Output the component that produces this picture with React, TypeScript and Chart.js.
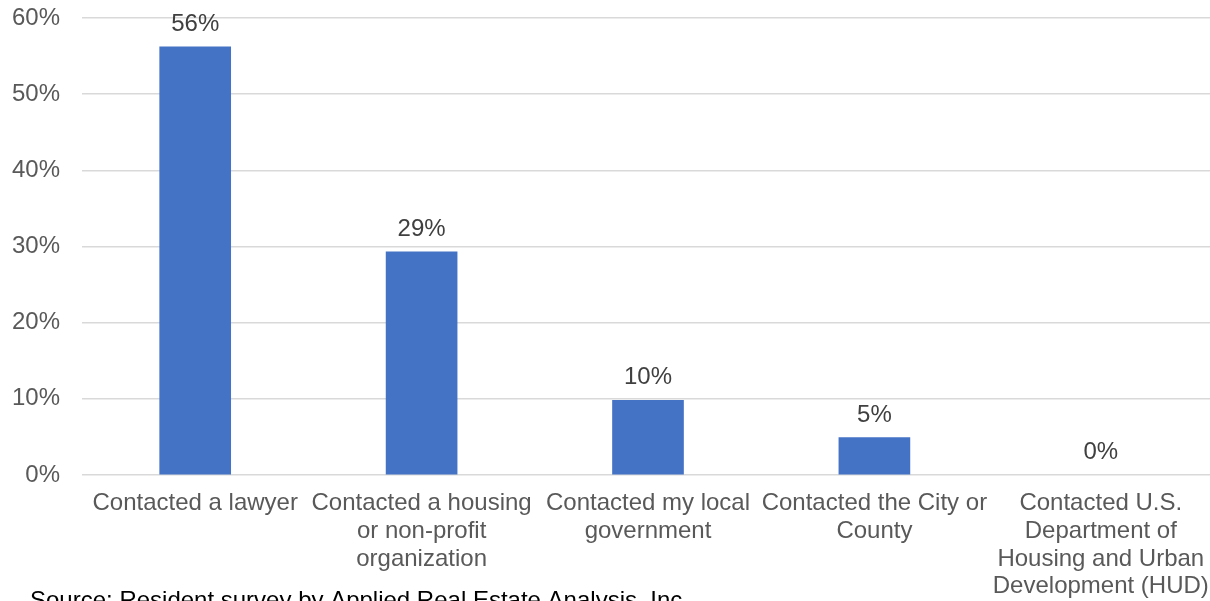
import React, { useEffect, useRef } from "react";
import { Chart, registerables } from "chart.js";

Chart.register(...registerables);

// Survey responses: share of residents who took each action
const categories: string[][] = [
  ["Contacted a lawyer"],
  ["Contacted a housing", "or non-profit", "organization"],
  ["Contacted my local", "government"],
  ["Contacted the City or", "County"],
  ["Contacted U.S.", "Department of", "Housing and Urban", "Development (HUD)"],
];
const shares: number[] = [56.2, 29.3, 9.8, 4.9, 0];
const yTicks: number[] = [0, 10, 20, 30, 40, 50, 60];
const sourceNote = "Source: Resident survey by Applied Real Estate Analysis, Inc.";

const FONT = "'Liberation Sans', Arial, sans-serif";

// Percent labels above each bar
const barValueLabels = {
  id: "barValueLabels",
  afterDatasetsDraw(chart: any) {
    const { ctx } = chart;
    const meta = chart.getDatasetMeta(0);
    ctx.save();
    ctx.font = `24px ${FONT}`;
    ctx.fillStyle = "#404040";
    ctx.textAlign = "center";
    ctx.textBaseline = "alphabetic";
    meta.data.forEach((bar: any, i: number) => {
      ctx.fillText(`${Math.round(shares[i])}%`, bar.x, bar.y - 16);
    });
    ctx.restore();
  },
};

// Source line under the chart
const sourceFooter = {
  id: "sourceFooter",
  afterDraw(chart: any) {
    const { ctx } = chart;
    ctx.save();
    ctx.font = `24px ${FONT}`;
    ctx.fillStyle = "#000000";
    ctx.textAlign = "left";
    ctx.textBaseline = "alphabetic";
    ctx.fillText(sourceNote, 30, 608);
    ctx.restore();
  },
};

export default function App() {
  const canvasRef = useRef<HTMLCanvasElement | null>(null);

  useEffect(() => {
    if (!canvasRef.current) return;
    const chart = new Chart(canvasRef.current, {
      type: "bar",
      data: {
        labels: categories,
        datasets: [
          {
            data: shares,
            backgroundColor: (c: any) =>
              c.raw === 0 ? "rgba(0,0,0,0)" : "#4472C4",
            borderWidth: 0,
            barThickness: 71,
          },
        ],
      },
      options: {
        responsive: false,
        animation: false,
        devicePixelRatio: 1,
        layout: { padding: { top: 18, left: 0, right: 0, bottom: 0 } },
        plugins: {
          legend: { display: false },
          tooltip: { enabled: false },
          title: { display: false },
        },
        scales: {
          x: {
            grid: { display: false, drawTicks: false },
            border: { display: false },
            ticks: {
              color: "#595959",
              font: { family: FONT, size: 24, lineHeight: 1.15 },
              padding: 15,
              maxRotation: 0,
              minRotation: 0,
              autoSkip: false,
            },
            afterFit(scale: any) {
              scale.height = 126;
              scale.paddingLeft = 0;
              scale.paddingRight = 0;
            },
          },
          y: {
            min: 0,
            max: 60,
            afterBuildTicks(scale: any) {
              scale.ticks = yTicks.map((v) => ({ value: v }));
            },
            grid: { color: "#d9d9d9", lineWidth: 1.5, drawTicks: false },
            border: { display: false },
            ticks: {
              color: "#595959",
              font: { family: FONT, size: 24 },
              padding: 22,
              callback: (v: any) => `${v}%`,
            },
            afterFit(scale: any) {
              scale.width = 82;
              scale.paddingTop = 0;
              scale.paddingBottom = 0;
            },
          },
        },
      },
      plugins: [barValueLabels, sourceFooter],
    });
    return () => chart.destroy();
  }, []);

  return (
    <div
      style={{
        position: "fixed",
        left: 0,
        top: 0,
        width: 1210,
        height: 601,
        overflow: "hidden",
        background: "#ffffff",
      }}
    >
      <canvas
        ref={canvasRef}
        width={1214}
        height={601}
        style={{ display: "block", width: 1214, height: 601 }}
      />
    </div>
  );
}
